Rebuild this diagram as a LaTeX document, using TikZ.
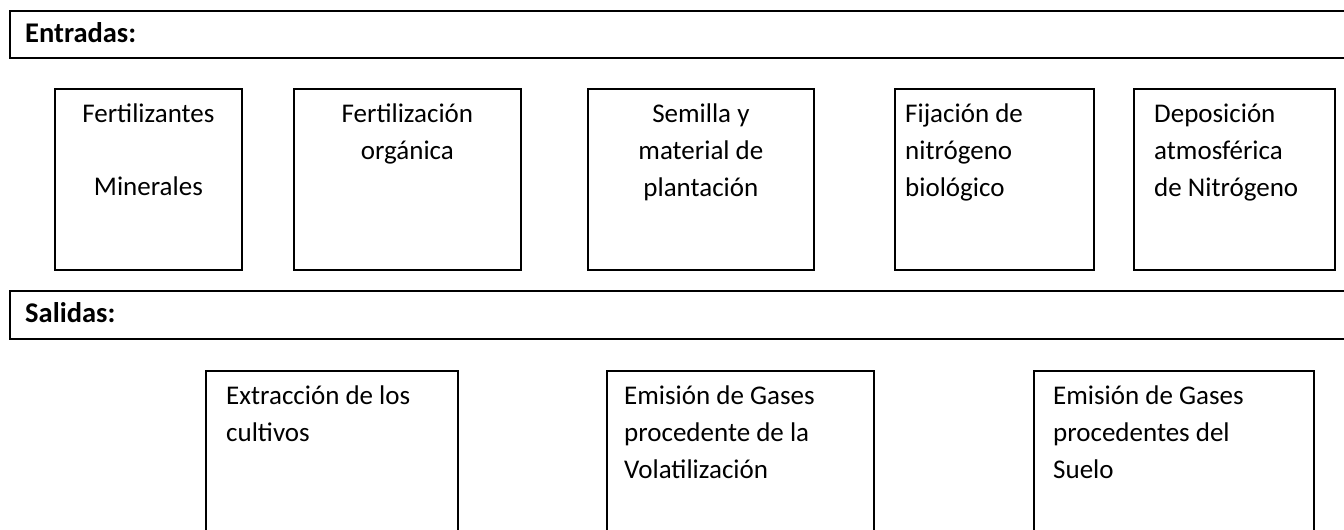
\documentclass[tikz,border=0pt]{standalone}
\usepackage{fontspec}
\setmainfont{Carlito}
\usetikzlibrary{positioning}
\tikzset{
  % heading bar (open to the right)
  hbar/.style={
    draw=black, line width=2.4pt, anchor=north west,
    inner sep=0pt, minimum width=1400pt, minimum height=47pt
  },
  htext/.style={
    anchor=base west, inner sep=0pt,
    font=\fontsize{28.5}{34}\selectfont\bfseries
  },
  % plain box
  ebox/.style={
    draw=black, line width=1.8pt, anchor=north west, inner sep=0pt
  },
  % box text, first line starts with a strut
  btext/.style={
    anchor=north, inner sep=0pt,
    font=\fontsize{27}{36.7}\selectfont,
    execute at begin node=\strut
  },
}

\begin{document}
\begin{tikzpicture}[x=1pt, y=-1pt]

\clip (0,0) rectangle (1344,530);

% ── Entradas ─────────────────────────────────────────────────────────────────
\node[hbar] (entbar) at (9,10) {};
\node[htext] (enttxt) at (25,42) {Entradas:};

\node[ebox, minimum width=187pt, minimum height=181pt] (fmin) at (54,88) {};
\node[ebox, minimum width=227pt, minimum height=181pt] (forg) at (293,88) {};
\node[ebox, minimum width=226pt, minimum height=181pt] (semi) at (587,88) {};
\node[ebox, minimum width=199pt, minimum height=181pt] (fbio) at (894,88) {};
\node[ebox, minimum width=201pt, minimum height=181pt] (depo) at (1133,88) {};

\node[btext, align=center] (tfmin) at ([yshift=-16pt]fmin.north)
  {Fertilizantes\\[36pt]Minerales};
\node[btext, align=center] (tforg) at ([yshift=-16pt]forg.north)
  {Fertilización\\orgánica};
\node[btext, align=center] (tsemi) at ([yshift=-16pt]semi.north)
  {Semilla y\\material de\\plantación};
\node[btext, anchor=north west, align=left] (tfbio)
  at ([xshift=11pt, yshift=-16pt]fbio.north west)
  {Fijación de\\nitrógeno\\biológico};
\node[btext, anchor=north west, align=left] (tdepo)
  at ([xshift=21pt, yshift=-16pt]depo.north west)
  {Deposición\\atmosférica\\de Nitrógeno};

% ── Salidas ──────────────────────────────────────────────────────────────────
\node[hbar, minimum height=48pt] (salbar) at (9,290) {};
\node[htext] (saltxt) at (25,322) {Salidas:};

\node[ebox, minimum width=252pt, minimum height=220pt] (extr) at (205,370) {};
\node[ebox, minimum width=267pt, minimum height=220pt] (evol) at (606,370) {};
\node[ebox, minimum width=280pt, minimum height=220pt] (esue) at (1033,370) {};

\node[btext, anchor=north west, align=left] (textr)
  at ([xshift=21pt, yshift=-16pt]extr.north west)
  {Extracción de los\\cultivos};
\node[btext, anchor=north west, align=left] (tevol)
  at ([xshift=18pt, yshift=-16pt]evol.north west)
  {Emisión de Gases\\procedente de la\\Volatilización};
\node[btext, anchor=north west, align=left] (tesue)
  at ([xshift=20pt, yshift=-16pt]esue.north west)
  {Emisión de Gases\\procedentes del\\Suelo};

\end{tikzpicture}
\end{document}
